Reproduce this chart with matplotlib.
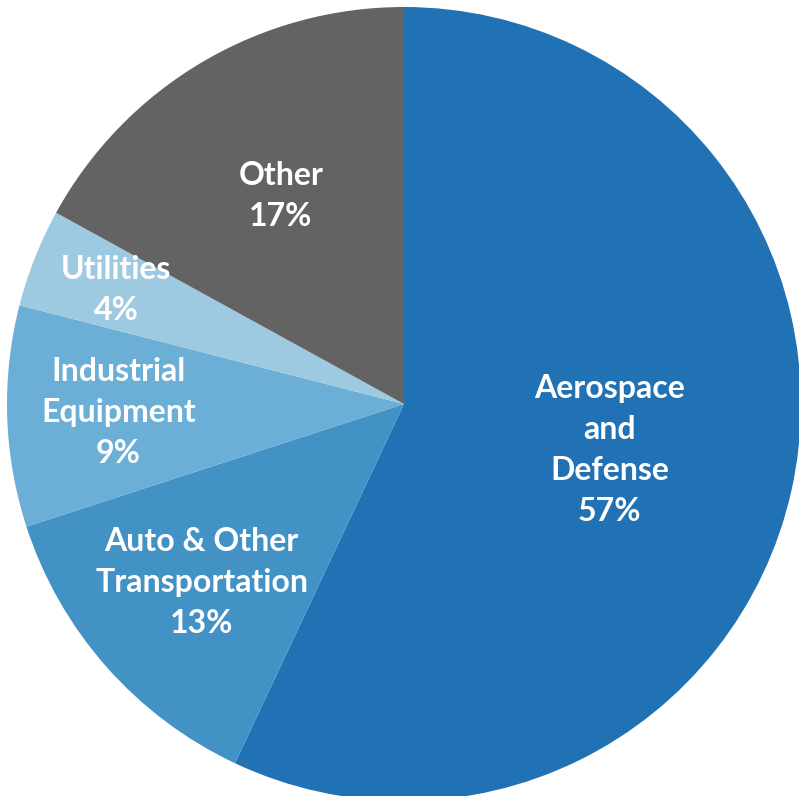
import numpy as np
import matplotlib
matplotlib.use("Agg")
import matplotlib.pyplot as plt

# Market share by end-use segment
categories = ["Aerospace\nand\nDefense", "Auto & Other\nTransportation",
              "Industrial\nEquipment", "Utilities", "Other"]
shares = [57, 13, 9, 4, 17]
colors = ["#2171b5", "#4292c6", "#6baed6", "#9ecae1", "#636363"]
label_radius = [0.53, 0.68, 0.72, 0.78, 0.61]

W, H = 799, 796
fig = plt.figure(figsize=(W / 100, H / 100), dpi=100)
ax = fig.add_axes([0, 0, 1, 1])

cx, cy, R = 404, H - 404, 397
wedges, _ = ax.pie(shares, colors=colors, startangle=90, counterclock=False,
                   radius=R, center=(cx, cy), frame=True,
                   wedgeprops=dict(linewidth=0))
ax.set_xlim(0, W)
ax.set_ylim(0, H)
ax.set_aspect("equal")
ax.axis("off")

for w, name, val, lr in zip(wedges, categories, shares, label_radius):
    mid = np.deg2rad((w.theta1 + w.theta2) / 2)
    x = cx + lr * R * np.cos(mid)
    y = cy + lr * R * np.sin(mid)
    ax.text(x, y, f"{name}\n{val}%", ha="center", va="center", color="white",
            fontsize=23, fontweight="bold", family="Lato", linespacing=1.5)

fig.savefig("out.png", dpi=100)
